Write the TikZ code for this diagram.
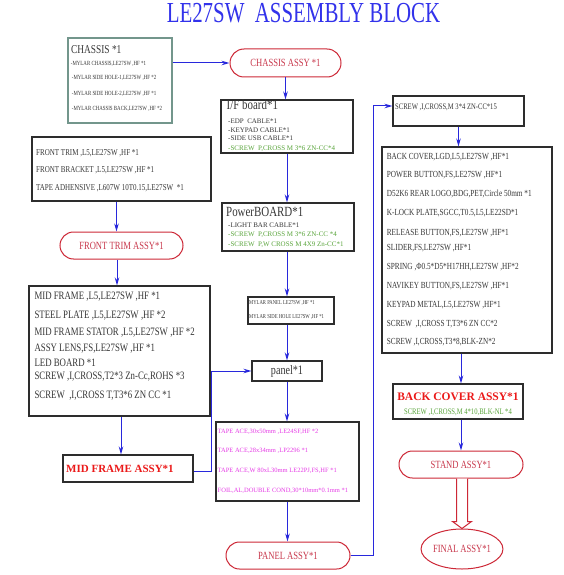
\documentclass[tikz,border=0pt]{standalone}
\usepackage{fontspec}
\setmainfont{Liberation Serif}
\newfontfamily\cf[FakeStretch=0.78]{Liberation Serif}
\newfontfamily\tf[FakeStretch=0.72]{Liberation Serif}
\usetikzlibrary{arrows.meta,shapes.misc,shapes.geometric,calc}
\definecolor{lblue}{RGB}{40,40,220}
\definecolor{ttl}{RGB}{50,50,235}
\definecolor{pred}{RGB}{205,40,55}
\definecolor{ptext}{RGB}{200,55,75}
\definecolor{bred}{RGB}{235,25,25}
\definecolor{grn}{RGB}{90,165,60}
\definecolor{mag}{RGB}{230,60,230}
\definecolor{chb}{RGB}{115,150,140}
\definecolor{bx}{RGB}{45,45,45}
\definecolor{tx}{RGB}{55,55,55}
\newcommand\fsz[1]{\fontsize{#1}{#1}\selectfont}
\tikzset{
 box/.style={draw=bx, line width=1.1pt, inner sep=0pt, fill=white},
 pill/.style={rounded rectangle, draw=pred, line width=1pt, inner sep=0pt, fill=white, text=ptext, font=\cf\fsz{11}},
 arr/.style={draw=lblue, line width=1pt, -{Stealth[length=8pt,width=4.5pt]}},
 ln/.style={anchor=base west, inner sep=0pt, text=tx},
 hollow/.style={draw=pred, line width=1pt, fill=white},
}
\begin{document}
\begin{tikzpicture}[x=1pt,y=-1pt]
\fill[white] (0,0) rectangle (564,575);
\path[use as bounding box] (0,0) rectangle (564,575);

% title
\node[anchor=base, inner sep=0pt, text=ttl, font=\tf\fsz{29}] (title) at (303.5,22.7) {LE27SW~ ASSEMBLY BLOCK};

% boxes and pills
\node[box, draw=chb, minimum width=104pt, minimum height=85pt] (chassis) at (120,80.5) {};
\node[pill, minimum width=111pt, minimum height=28pt] (cassy) at (285.5,63) {CHASSIS ASSY *1};
\node[box, minimum width=132pt, minimum height=53pt] (ifb) at (287,126.5) {};
\node[box, minimum width=132pt, minimum height=48pt] (pwr) at (288,227) {};
\node[box, minimum width=86pt, minimum height=27pt] (mylar) at (291,310.5) {};
\node[box, minimum width=70pt, minimum height=20pt, text=tx, font=\cf\fsz{13}] (panel) at (287,371) {panel*1};
\node[box, minimum width=143pt, minimum height=79pt] (tape) at (287.5,461.5) {};
\node[pill, minimum width=124pt, minimum height=27pt] (passy) at (288,555.5) {PANEL ASSY*1};
\node[box, minimum width=131pt, minimum height=30pt] (screw) at (458.5,111) {};
\node[box, minimum width=170pt, minimum height=206pt] (big) at (467,250) {};
\node[box, minimum width=130pt, minimum height=35pt] (bca) at (458,401.5) {};
\node[pill, minimum width=124pt, minimum height=27pt] (stand) at (461,464.5) {STAND ASSY*1};
\node[ellipse, draw=pred, line width=1pt, inner sep=0pt, minimum width=78pt, minimum height=40pt, text=ptext, font=\cf\fsz{11}] (final) at (462,549) {FINAL ASSY*1};
\node[box, minimum width=179pt, minimum height=64pt] (ft) at (121.5,169) {};
\node[pill, minimum width=123pt, minimum height=27pt] (fta) at (121.5,245.5) {FRONT TRIM ASSY*1};
\node[box, minimum width=181pt, minimum height=130pt] (mf) at (119.5,351) {};
\node[box, minimum width=130pt, minimum height=27pt] (mfa) at (128,468.5) {};

% chassis texts
\node[ln, font=\cf\fsz{12}] (ch0) at (71,53.3) {CHASSIS *1};
\node[ln, font=\cf\fsz{6.3}] (ch1) at (70.7,65.7) {-MYLAR CHASSIS,LE27SW ,HF *1};
\node[ln, font=\cf\fsz{6.3}] (ch2) at (71.7,80) {-MYLAR SIDE HOLE-1,LE27SW ,HF *2};
\node[ln, font=\cf\fsz{6.3}] (ch3) at (71.7,96) {-MYLAR SIDE HOLE-2,LE27SW ,HF *1};
\node[ln, font=\cf\fsz{6.3}] (ch4) at (71.7,110.3) {-MYLAR CHASSIS BACK,LE27SW ,HF *2};

% I/F board texts
\node[ln, font=\cf\fsz{14}] (if0) at (226.5,110) {I/F board*1};
\node[ln, font=\fsz{7}] (if1) at (228,123.5) {-EDP\ \ CABLE*1};
\node[ln, font=\fsz{7}] (if2) at (228,132) {-KEYPAD CABLE*1};
\node[ln, font=\fsz{7}] (if3) at (228,140.5) {-SIDE USB CABLE*1};
\node[ln, font=\fsz{7}, text=grn] (if4) at (228,150) {-SCREW\ \ P,CROSS M 3*6 ZN-CC*4};

% PowerBOARD texts
\node[ln, font=\cf\fsz{14}] (pw0) at (226,216) {PowerBOARD*1};
\node[ln, font=\fsz{7}] (pw1) at (228,227.5) {-LIGHT BAR CABLE*1};
\node[ln, font=\fsz{7}, text=grn] (pw2) at (228,236.7) {-SCREW\ \ P,CROSS M 3*6 ZN-CC *4};
\node[ln, font=\fsz{7}, text=grn] (pw3) at (228,246) {-SCREW\ \ P,W CROSS M 4X9 Zn-CC*1};

% mylar panel texts
\node[ln, font=\cf\fsz{6}] (my1) at (249,304.7) {MYLAR PANEL LE27SW ,HF *1};
\node[ln, font=\cf\fsz{6}] (my2) at (249,318) {MYLAR SIDE HOLE LE27SW ,HF *1};

% tape texts
\node[ln, font=\fsz{6.5}, text=mag] (tp1) at (217.5,433.7) {TAPE ACE,30x50mm ,LE24SF,HF *2};
\node[ln, font=\fsz{6.5}, text=mag] (tp2) at (217.5,452.7) {TAPE ACE,28x34mm ,LP2296 *1};
\node[ln, font=\fsz{6.5}, text=mag] (tp3) at (217.5,472.7) {TAPE ACE,W 80xL30mm LE22PJ,FS,HF *1};
\node[ln, font=\fsz{6.5}, text=mag] (tp4) at (217.5,492.7) {FOIL,AL,DOUBLE COND,30*10mm*0.1mm *1};

% screw box text
\node[ln, font=\cf\fsz{8.5}] (sc0) at (395,109.3) {SCREW ,I,CROSS,M 3*4 ZN-CC*15};

% big box texts
\node[ln, font=\cf\fsz{9.3}] (b1) at (386.7,159) {BACK COVER,LGD,L5,LE27SW ,HF*1};
\node[ln, font=\cf\fsz{9.3}] (b2) at (386.7,177.3) {POWER BUTTON,FS,LE27SW ,HF*1};
\node[ln, font=\cf\fsz{9.3}] (b3) at (386.7,196) {D52K6 REAR LOGO,BDG,PET,Circle 50mm *1};
\node[ln, font=\cf\fsz{9.3}] (b4) at (386.7,215) {K-LOCK PLATE,SGCC,T0.5,L5,LE22SD*1};
\node[ln, font=\cf\fsz{9.3}] (b5) at (386.7,235) {RELEASE BUTTON,FS,LE27SW ,HF*1};
\node[ln, font=\cf\fsz{9.3}] (b6) at (386.7,250.7) {SLIDER,FS,LE27SW ,HF*1};
\node[ln, font=\cf\fsz{9.3}] (b7) at (386.7,269) {SPRING ,Φ0.5*D5*H17HH,LE27SW ,HF*2};
\node[ln, font=\cf\fsz{9.3}] (b8) at (386.7,288.3) {NAVIKEY BUTTON,FS,LE27SW ,HF*1};
\node[ln, font=\cf\fsz{9.3}] (b9) at (386.7,307.3) {KEYPAD METAL,L5,LE27SW ,HF*1};
\node[ln, font=\cf\fsz{9.3}] (b10) at (386.7,326.7) {SCREW\ \ ,I,CROSS T,T3*6 ZN CC*2};
\node[ln, font=\cf\fsz{9.3}] (b11) at (386.7,344) {SCREW ,I,CROSS,T3*8,BLK-ZN*2};

% back cover assy texts
\node[anchor=base, inner sep=0pt, font=\bfseries\fsz{11.5}, text=bred] (bct) at (458,400.7) {BACK COVER ASSY*1};
\node[anchor=base, inner sep=0pt, font=\cf\fsz{8.5}, text=grn] (bcs) at (458,414.3) {SCREW ,I,CROSS,M 4*10,BLK-NL *4};

% front trim texts
\node[ln, font=\cf\fsz{9}] (f1) at (36,155) {FRONT TRIM ,L5,LE27SW ,HF *1};
\node[ln, font=\cf\fsz{9}] (f2) at (36,172.7) {FRONT BRACKET ,L5,LE27SW ,HF *1};
\node[ln, font=\cf\fsz{9}] (f3) at (36,190.3) {TAPE ADHENSIVE ,L607W 10T0.15,LE27SW\ \ *1};

% mid frame texts
\node[ln, font=\cf\fsz{11.3}] (m1) at (34.3,299.3) {MID FRAME ,L5,LE27SW ,HF *1};
\node[ln, font=\cf\fsz{11.3}] (m2) at (34.3,318.3) {STEEL PLATE ,L5,LE27SW ,HF *2};
\node[ln, font=\cf\fsz{11.3}] (m3) at (34.3,335) {MID FRAME STATOR ,L5,LE27SW ,HF *2};
\node[ln, font=\cf\fsz{11.3}] (m4) at (34.3,351.7) {ASSY LENS,FS,LE27SW ,HF *1};
\node[ln, font=\cf\fsz{11.3}] (m5) at (34.3,366) {LED BOARD *1};
\node[ln, font=\cf\fsz{11.3}] (m6) at (34.3,379.3) {SCREW ,I,CROSS,T2*3 Zn-Cc,ROHS *3};
\node[ln, font=\cf\fsz{11.3}] (m7) at (34.3,398.3) {SCREW\ \ ,I,CROSS T,T3*6 ZN CC *1};

% mid frame assy text
\node[ln, font=\bfseries\fsz{11}, text=bred] (mft) at (66,472.7) {MID FRAME ASSY*1};

% connectors
\draw[arr] (chassis.east |- cassy.west) -- (cassy.west);
\draw[arr] (cassy.south) -- (cassy.south |- ifb.north);
\draw[arr] (ifb.south) -- (ifb.south |- pwr.north);
\draw[arr] (panel.north |- pwr.south) -- (panel.north |- mylar.north);
\draw[arr] (panel.north |- mylar.south) -- (panel.north);
\draw[arr] (panel.south) -- (panel.south |- tape.north);
\draw[arr] (tape.south) -- (tape.south |- passy.north);
\draw[arr] (passy.east) -- ++(23,0) |- ([yshift=5pt]screw.west);
\draw[arr] (screw.south) -- (screw.south |- big.north);
\draw[arr] (stand.north |- big.south) -- (stand.north |- bca.north);
\draw[arr] (stand.north |- bca.south) -- (stand.north);
\draw[arr] ([xshift=-5pt]ft.south) -- ([xshift=-5pt]ft.south |- fta.north);
\draw[arr] ([xshift=-4.5pt]fta.south) -- ([xshift=-4.5pt]fta.south |- mf.north);
\draw[arr] ([xshift=1.5pt]mf.south) -- ([xshift=1.5pt]mf.south |- mfa.north);
\draw[arr] ([yshift=-2.5pt]mfa.east) -- ++(18,0) |- (panel.west);

% hollow arrow stand -> final
\draw[hollow] ($(final.north |- stand.south)+(-5.5,0)$) -- ($(final.north)+(-5.5,-7)$) -- ($(final.north)+(-9.5,-7)$) -- (final.north) -- ($(final.north)+(9.5,-7)$) -- ($(final.north)+(5.5,-7)$) -- ($(final.north |- stand.south)+(5.5,0)$);
\end{tikzpicture}
\end{document}
